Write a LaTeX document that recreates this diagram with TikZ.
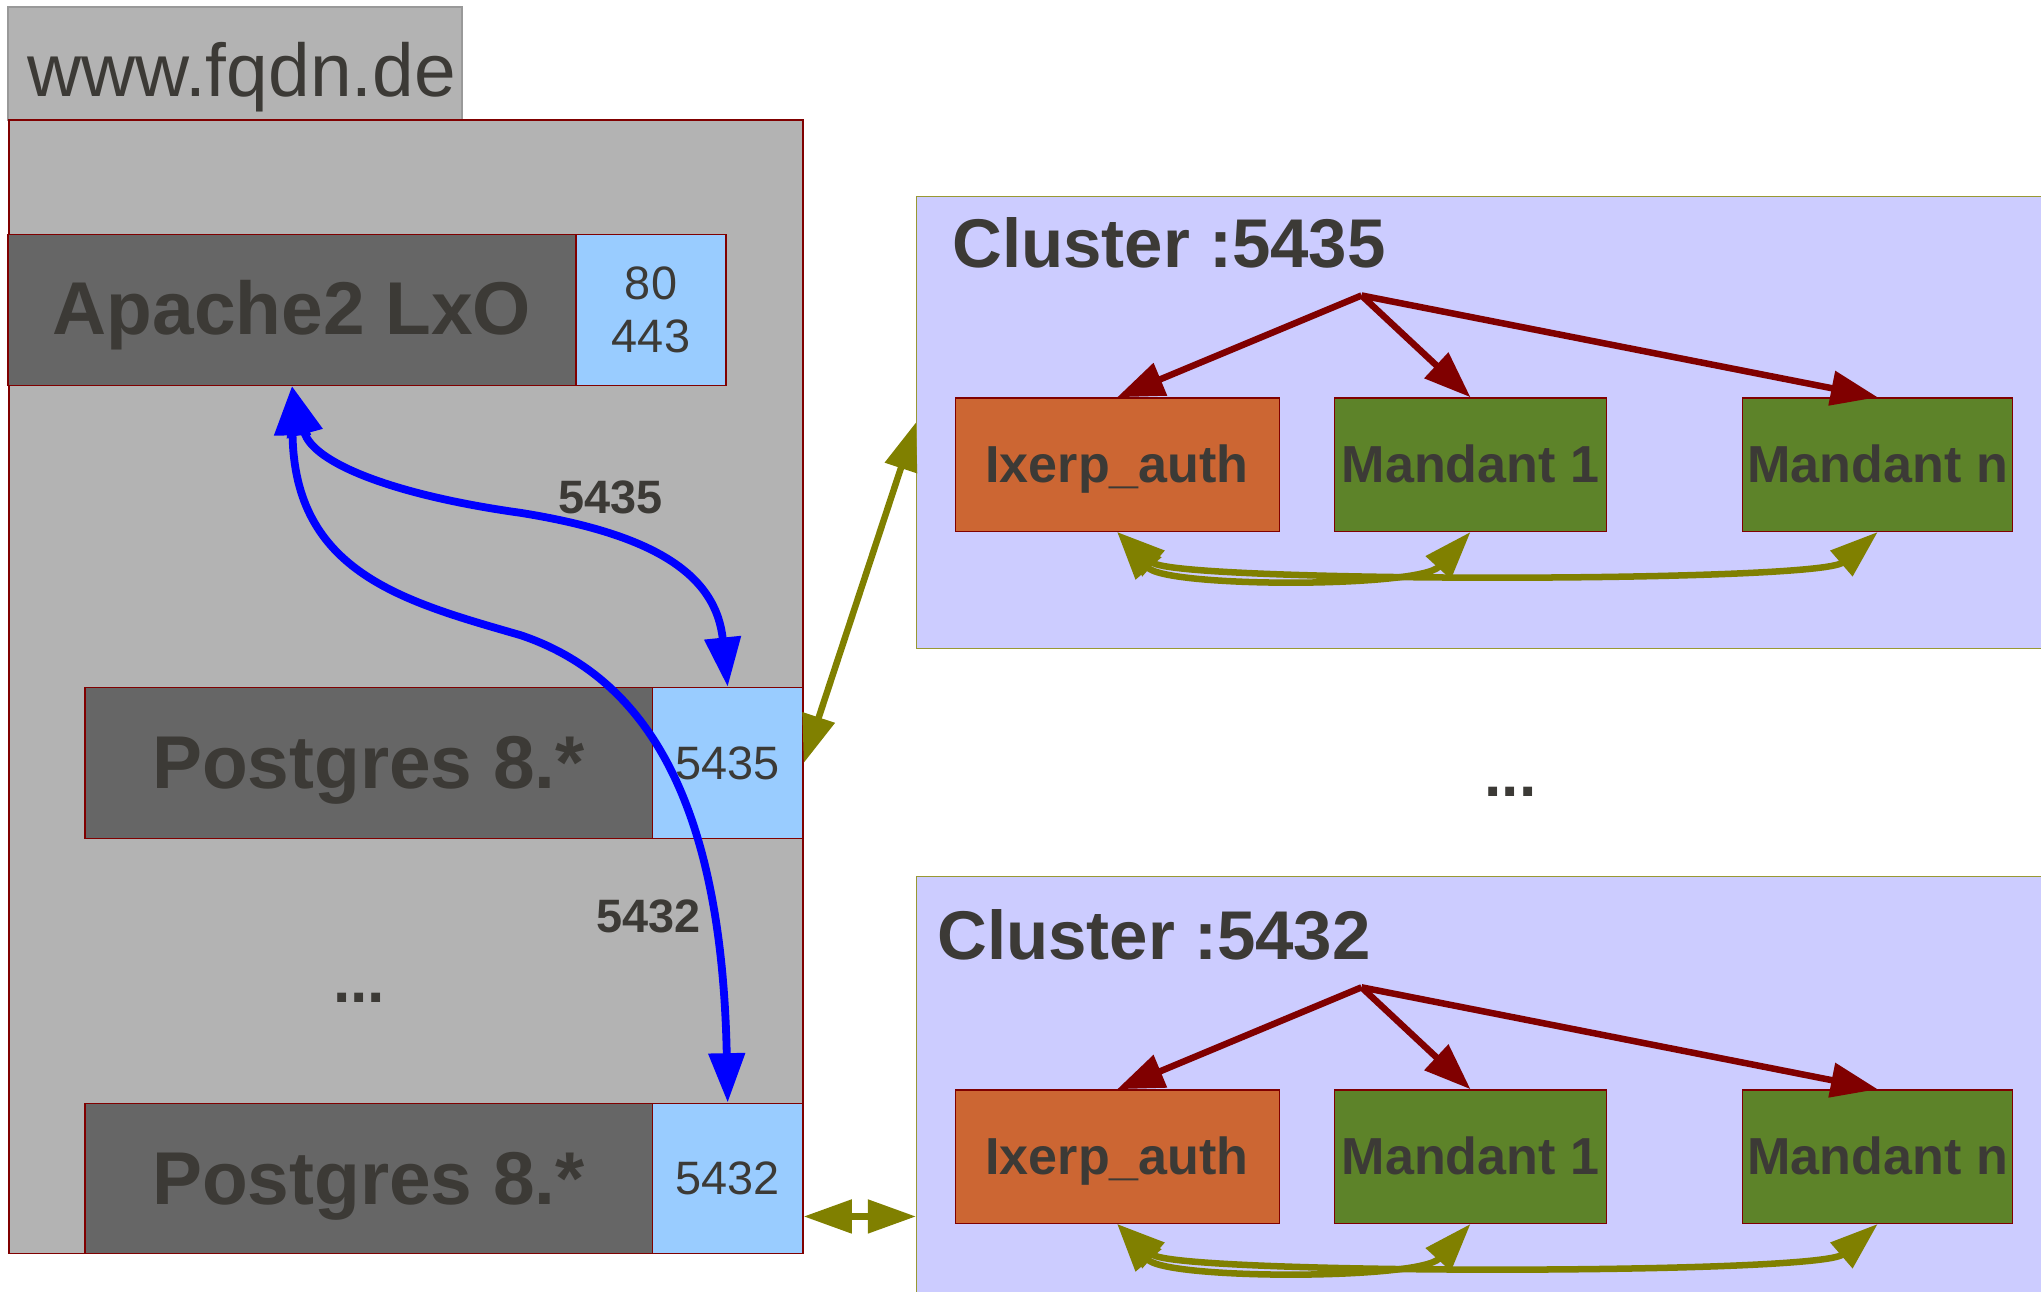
\documentclass[tikz,border=0pt]{standalone}
\usepackage{fontspec}
\setmainfont{Liberation Sans}
\usetikzlibrary{arrows.meta,calc}
\definecolor{txt}{RGB}{60,58,54}
\definecolor{graybg}{RGB}{179,179,179}
\definecolor{darkbox}{RGB}{102,102,102}
\definecolor{portblue}{RGB}{153,204,255}
\definecolor{clusterbg}{RGB}{204,204,255}
\definecolor{clusterline}{RGB}{153,153,51}
\definecolor{orangebox}{RGB}{204,102,51}
\definecolor{greenbox}{RGB}{93,131,41}
\definecolor{dred}{RGB}{128,0,0}
\definecolor{olivec}{RGB}{128,128,0}
\definecolor{wwwline}{RGB}{153,153,153}
\begin{document}
\begin{tikzpicture}[x=1pt,y=-1pt,
  rbox/.style={draw=dred,line width=1pt,inner sep=0pt,text=txt,anchor=north west},
  bigbold/.style={font=\fontsize{57.5}{69}\bfseries\selectfont},
  portfont/.style={font=\fontsize{36}{41}\selectfont},
  boxfont/.style={font=\fontsize{40}{48}\bfseries\selectfont},
  lbl/.style={inner sep=0pt,text=txt,font=\fontsize{36}{43}\bfseries\selectfont,anchor=base},
  dotsfont/.style={inner sep=0pt,text=txt,font=\fontsize{48}{58}\bfseries\selectfont,anchor=base},
  ctitle/.style={inner sep=0pt,text=txt,font=\fontsize{53}{64}\bfseries\selectfont,anchor=base west},
  clusterbox/.style={draw=clusterline,fill=clusterbg,line width=1pt,inner sep=0pt,anchor=north west},
  bluearrow/.style={draw=blue,line width=6pt,{Triangle[length=38pt,width=27pt]}-{Triangle[length=38pt,width=27pt]}},
  redarrow/.style={draw=dred,line width=5pt,-{Triangle[length=36pt,width=26pt]}},
  olivearrow/.style={draw=olivec,line width=5pt,{Triangle[length=37pt,width=25pt]}-{Triangle[length=37pt,width=25pt]}},
  innerbox/.style={rbox,minimum height=102.5pt,boxfont,text height=29pt,text depth=2pt}
]
\useasboundingbox (0,0) rectangle (1568,992);

% host label
\node[draw=wwwline,fill=graybg,line width=1pt,anchor=north west,
  minimum width=348.8pt,minimum height=87pt,inner xsep=4.8pt,inner ysep=0pt,
  text width=339.2pt,align=right,text height=52pt,text depth=2pt,text=txt,
  font=\fontsize{57.5}{69}\selectfont] (www) at (5.6,4.8) {www.fqdn.de};

% host box
\node[rbox,fill=graybg,minimum width=610pt,minimum height=870.9pt] (host) at (6.5,91.8) {};

% apache
\node[rbox,fill=darkbox,minimum width=436.4pt,minimum height=116pt,bigbold,
  text height=40.2pt,text depth=2pt] (apache) at (5.6,179.5) {Apache2 LxO};
\node[rbox,fill=portblue,minimum width=115.3pt,minimum height=116pt,align=center,
  portfont] (apacheport) at (442,179.5) {80\\443};

% postgres 1
\node[rbox,fill=darkbox,minimum width=436pt,minimum height=116.2pt,bigbold,
  text height=41.6pt,text depth=2pt] (pg1) at (64.7,527.7) {Postgres 8.*};
\node[rbox,fill=portblue,minimum width=115.7pt,minimum height=116.2pt,portfont,
  text height=27pt,text depth=2pt] (port1) at (500.7,527.7) {5435};

% postgres 2
\node[rbox,fill=darkbox,minimum width=436pt,minimum height=115.6pt,bigbold,
  text height=41.6pt,text depth=2pt] (pg2) at (64.7,847.1) {Postgres 8.*};
\node[rbox,fill=portblue,minimum width=115.7pt,minimum height=115.6pt,portfont,
  text height=27pt,text depth=2pt] (port2) at (500.7,847.1) {5432};

% labels
\node[lbl] (l5435) at (469,394.6) {5435};
\node[lbl] (l5432) at (498,716.1) {5432};
\node[dotsfont] (dots1) at (276,770) {...};
\node[dotsfont] (dots2) at (1160.5,612) {...};

% clusters
\node[clusterbox,minimum width=880pt,minimum height=347.3pt] (cl1) at (703.7,150.3) {};
\node[clusterbox,minimum width=880pt,minimum height=340pt] (cl2) at (703.7,672.7) {};
\node[ctitle] (t1) at (731.5,205.4) {Cluster :5435};
\node[ctitle] (t2) at (720,737) {Cluster :5432};

% cluster 1 content
\node[innerbox,fill=orangebox,minimum width=248.9pt] (ix1) at (733.3,305.2) {Ixerp\_auth};
\node[innerbox,fill=greenbox,minimum width=209.2pt] (ma1) at (1024.6,305.2) {Mandant 1};
\node[innerbox,fill=greenbox,minimum width=207.5pt] (mn1) at (1338.3,305.2) {Mandant n};
\coordinate (src1) at (1046,227);
\draw[redarrow] (src1) -- (ix1.north);
\draw[redarrow] (src1) -- (ma1.north);
\draw[redarrow] (src1) -- (mn1.north);
\draw[olivearrow] (ix1.south) .. controls +(37,43) and +(-39,43) .. (ma1.south);
\draw[olivearrow] (ix1.south) .. controls +(45,39) and +(-45,39) .. (mn1.south);

% cluster 2 content
\node[innerbox,fill=orangebox,minimum width=248.9pt] (ix2) at (733.3,836.8) {Ixerp\_auth};
\node[innerbox,fill=greenbox,minimum width=209.2pt] (ma2) at (1024.6,836.8) {Mandant 1};
\node[innerbox,fill=greenbox,minimum width=207.5pt] (mn2) at (1338.3,836.8) {Mandant n};
\coordinate (src2) at (1046,758.5);
\draw[redarrow] (src2) -- (ix2.north);
\draw[redarrow] (src2) -- (ma2.north);
\draw[redarrow] (src2) -- (mn2.north);
\draw[olivearrow] (ix2.south) .. controls +(37,43) and +(-39,43) .. (ma2.south);
\draw[olivearrow] (ix2.south) .. controls +(45,39) and +(-45,39) .. (mn2.south);

% links postgres -> clusters
\draw[olivearrow] (port1.east) -- (cl1.west);
\coordinate (p2a) at ($(port2.south east)!0.25!(port2.north east)$);
\draw[olivearrow] (p2a) -- (cl2.west |- p2a);

% apache -> postgres
\draw[bluearrow] (apache.south) .. controls (240,355) and (300,380) .. (400,394)
  .. controls (500,410) and (550,440) .. (port1.north);
\draw[bluearrow] (apache.south) .. controls (226,440) and (310,462) .. (400,488)
  .. controls (510,525) and (555,640) .. (port2.north);
\end{tikzpicture}
\end{document}
